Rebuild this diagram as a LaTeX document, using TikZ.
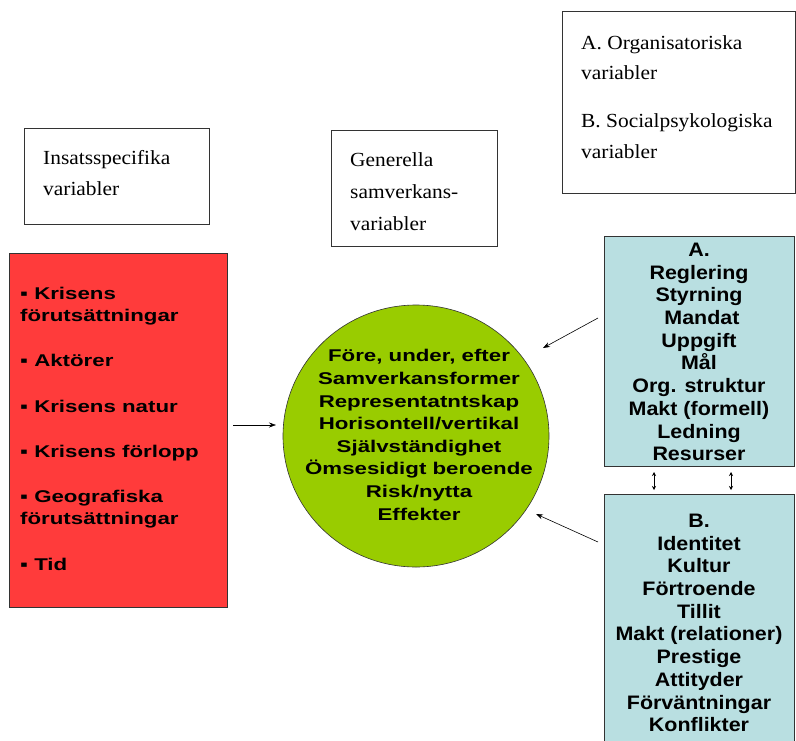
\documentclass[tikz,border=0pt]{standalone}
\usepackage{fontspec}
\setmainfont{Liberation Serif}
\newfontfamily\timesw[FakeStretch=1.07]{Liberation Serif}
\newfontfamily\arialb[FakeStretch=1.1]{Liberation Sans}
\newfontfamily\arialw[FakeStretch=1.31]{Liberation Sans}
\usetikzlibrary{shapes.geometric,arrows.meta}
\definecolor{redbox}{HTML}{FF3B3B}
\definecolor{greenell}{HTML}{99CC00}
\definecolor{bluebox}{HTML}{B9DFE1}
\tikzset{
  lbl/.style={draw=black!80,line width=0.6pt,fill=white},
  serif/.style={font=\timesw\fontsize{20}{30}\selectfont,align=left,anchor=base west,inner sep=0pt},
  bold/.style={font=\arialb\bfseries\fontsize{19.5}{22.7}\selectfont,align=center,inner sep=0pt},
  ellt/.style={font=\arialw\bfseries\fontsize{17}{22.6}\selectfont,align=center,inner sep=0pt},
  rlist/.style={font=\arialw\bfseries\fontsize{17}{22}\selectfont,align=left,anchor=base west,inner sep=0pt},
  conn/.style={line width=0.6pt,-{Stealth[length=7pt,width=5pt]}},
  dbl/.style={line width=0.6pt,{Stealth[length=4pt,width=4pt]}-{Stealth[length=4pt,width=4pt]}}
}
\begin{document}
\begin{tikzpicture}[x=1pt,y=-1pt]
\useasboundingbox (0,0) rectangle (796,740);
% label boxes
\draw[lbl] (562,11) rectangle (795,193);
\node[serif] (ta) at (581,79) {A. Organisatoriska\\variabler};
\node[serif,font=\timesw\fontsize{20}{31}\selectfont] (tb) at (581,158) {B. Socialpsykologiska\\variabler};
\draw[lbl] (24,128) rectangle (209,224);
\node[serif,font=\timesw\fontsize{20}{31}\selectfont] (ti) at (43,195) {Insatsspecifika\\variabler};
\draw[lbl] (331,130) rectangle (497,246);
\node[serif,font=\timesw\fontsize{20}{32}\selectfont] (tg) at (350,230) {Generella\\samverkans-\\variabler};
% red box
\draw[fill=redbox,draw=black!80,line width=0.6pt] (9,253) rectangle (227,607);
\coordinate (redE) at (233,425);
\node[rlist] (r1) at (20,321) {▪ Krisens\\förutsättningar};
\node[rlist] (r2) at (20,366) {▪ Aktörer};
\node[rlist] (r3) at (20,412) {▪ Krisens natur};
\node[rlist] (r4) at (20,457) {▪ Krisens förlopp};
\node[rlist] (r5) at (20,524) {▪ Geografiska\\förutsättningar};
\node[rlist] (r6) at (20,570) {▪ Tid};
% ellipse
\node[ellipse,fill=greenell,draw=black!80,line width=0.6pt,minimum width=266pt,minimum height=262pt] (ell) at (416,436) {};
\node[ellt] (et) at (419,435) {Före, under, efter\\Samverkansformer\\Representatntskap\\Horisontell/vertikal\\Självständighet\\Ömsesidigt beroende\\Risk/nytta\\Effekter};
% box A
\draw[fill=bluebox,draw=black!80,line width=0.6pt] (604,236) rectangle (794,466);
\node[bold] (at) at (699,352) {A.\\Reglering\\Styrning\\\ Mandat\\Uppgift\\Mål\\Org. struktur\\Makt (formell)\\Ledning\\Resurser};
% box B
\draw[fill=bluebox,draw=black!80,line width=0.6pt] (604,494) rectangle (794,745);
\node[bold] (bt) at (699,623) {B.\\Identitet\\Kultur\\Förtroende\\Tillit\\Makt (relationer)\\Prestige\\Attityder\\Förväntningar\\Konflikter};
% connectors
\coordinate (a1s) at (598,318);
\coordinate (a1e) at (543,348);
\coordinate (b1s) at (598,542);
\coordinate (b1e) at (536,514);
\coordinate (re) at (276,425);
\draw[conn] (redE) -- (re);
\draw[conn] (a1s) -- (a1e);
\draw[conn] (b1s) -- (b1e);
\coordinate (d1a) at (654,472); \coordinate (d1b) at (654,490);
\coordinate (d2a) at (731,472); \coordinate (d2b) at (731,490);
\draw[dbl] (d1a) -- (d1b);
\draw[dbl] (d2a) -- (d2b);
\end{tikzpicture}
\end{document}
